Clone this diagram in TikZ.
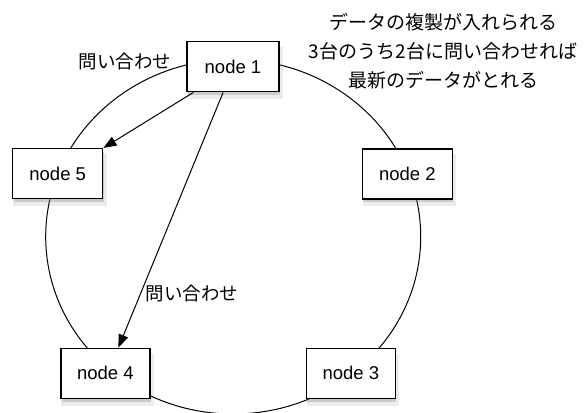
\documentclass[tikz,border=0pt]{standalone}
\usepackage{fontspec}
\setmainfont{Liberation Sans}
\newfontfamily\jp{Noto Sans CJK JP}
\usetikzlibrary{arrows.meta,shadows}
\begin{document}
\begin{tikzpicture}[x=1pt,y=1pt,
  box/.style={draw, line width=1.5pt, fill=white, minimum width=90pt, minimum height=50pt,
    inner sep=0pt, font=\fontsize{18.5}{20}\selectfont,
    drop shadow={opacity=0.15, shadow xshift=2pt, shadow yshift=-6pt, shadow scale=1.04},
    drop shadow={opacity=0.3, shadow xshift=1pt, shadow yshift=-3.5pt}},
  ring/.style={line width=1pt},
  query/.style={line width=1pt, -{Triangle[length=13pt,width=10pt]}},
  jplabel/.style={font=\jp\fontsize{18.5}{22}\selectfont, inner sep=0pt},
  note/.style={font=\jp\fontsize{19}{29}\selectfont, align=center, inner sep=0pt}]
\useasboundingbox (0,0) rectangle (585,412);
\draw[ring] (233.2,175.3) ellipse [x radius=187.5, y radius=177.3];
\node[box, minimum width=92pt] (n1) at (233,345.3) {node 1};
\node[box] (n5) at (57.7,238.3) {node 5};
\node[box] (n2) at (407.3,238) {node 2};
\node[box, minimum width=89pt] (n4) at (105.3,38.7) {node 4};
\node[box, minimum width=89pt] (n3) at (350.8,38.7) {node 3};
\draw[query] (n1.213) -- (n5.north east);
\draw[query] (n1.249) -- (n4.63);
\node[jplabel] (q1) at (125,350) {問い合わせ};
\node[jplabel] (q2) at (192,119) {問い合わせ};
\node[note] (txt) at (443,360.7) {データの複製が入れられる\\3台のうち2台に問い合わせれば\\最新のデータがとれる};
\end{tikzpicture}
\end{document}
